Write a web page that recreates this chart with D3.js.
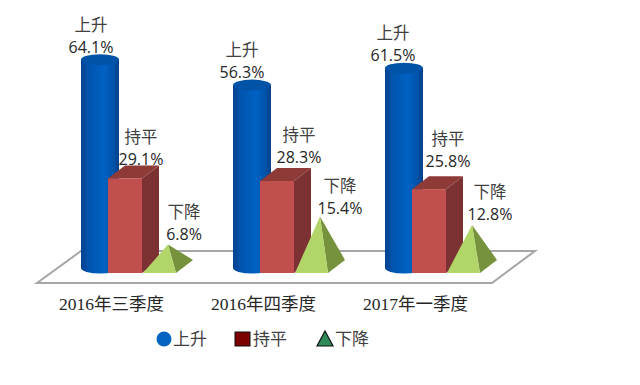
<!DOCTYPE html>
<html>
<head>
<meta charset="utf-8">
<script src="https://cdn.jsdelivr.net/npm/d3@7"></script>
<style>
    html, body { margin: 0; padding: 0; background: #fff; }
    svg { display: block; }
    text { font-family: "Noto Sans CJK SC", "Open Sans", sans-serif; }
</style>
</head>
<body>
<div id="chart"></div>
<script>
const categories = ["2016年三季度", "2016年四季度", "2017年一季度"];
const seriesNames = ["上升", "持平", "下降"];
const rising = [64.1, 56.3, 61.5];
const flat = [29.1, 28.3, 25.8];
const falling = [6.8, 15.4, 12.8];

const width = 640, height = 385;

const svg = d3.select("#chart")
    .append("svg")
    .attr("width", width)
    .attr("height", height);

const defs = svg.append("defs");
const cylGrad = defs.append("linearGradient").attr("id", "cyl");
[[0, "#00408f"], [0.2, "#0054ad"], [0.6, "#0062c4"], [0.85, "#0053a8"], [1, "#003e8a"]].forEach(s => {
    cylGrad.append("stop").attr("offset", s[0]).attr("stop-color", s[1]);
});
// the reference is a soft, upscaled picture
defs.append("filter").attr("id", "soft")
    .append("feGaussianBlur").attr("stdDeviation", 0.35);

const x = d3.scalePoint().domain(categories).range([81, 385]);
const y = d3.scaleLinear().domain([0, 100]).range([0, 325]);

const base = 273;          // front edge of the box and pyramid
const cylBase = 268;       // centre of the cylinder's bottom ellipse
const cylW = 38, ry = 5.5;
const boxX = 27, boxW = 34, depthX = 17, depthY = 13;
const pyrX = 62, pyrW = 33;

const chart = svg.append("g").attr("filter", "url(#soft)");

// floor
chart.append("path")
    .attr("d", `M37,${base + 10}L492,${base + 10}L535,${base - 22}L81,${base - 22}Z`)
    .attr("fill", "#fff")
    .attr("stroke", "#a6a6a6")
    .attr("stroke-width", 2);

categories.forEach((c, i) => {
    const x0 = x(c);

    // cylinder
    const cylTop = cylBase - y(rising[i]);
    chart.append("path")
        .attr("d", `M${x0},${cylTop}L${x0},${cylBase}A${cylW / 2},${ry} 0 0 0 ${x0 + cylW},${cylBase}L${x0 + cylW},${cylTop}Z`)
        .attr("fill", "url(#cyl)");
    chart.append("ellipse")
        .attr("cx", x0 + cylW / 2)
        .attr("cy", cylTop)
        .attr("rx", cylW / 2)
        .attr("ry", ry)
        .attr("fill", "#0052a6");

    // box
    const bx = x0 + boxX, bTop = base - y(flat[i]);
    chart.append("path")
        .attr("d", `M${bx + boxW},${bTop}L${bx + boxW + depthX},${bTop - depthY}L${bx + boxW + depthX},${base - depthY}L${bx + boxW},${base}Z`)
        .attr("fill", "#7c3231");
    chart.append("path")
        .attr("d", `M${bx},${bTop}L${bx + depthX},${bTop - depthY}L${bx + boxW + depthX},${bTop - depthY}L${bx + boxW},${bTop}Z`)
        .attr("fill", "#8e3b39");
    chart.append("rect")
        .attr("x", bx)
        .attr("y", bTop)
        .attr("width", boxW)
        .attr("height", y(flat[i]))
        .attr("fill", "#c0504d");

    // pyramid
    const px = x0 + pyrX;
    const apexX = px + (pyrW + depthX) / 2;
    const apexY = base - depthY / 2 - y(falling[i]);
    chart.append("path")
        .attr("d", `M${px + pyrW},${base}L${px + pyrW + depthX},${base - depthY}L${apexX},${apexY}Z`)
        .attr("fill", "#76923c");
    chart.append("path")
        .attr("d", `M${px},${base}L${px + pyrW},${base}L${apexX},${apexY}Z`)
        .attr("fill", "#b1d568");
});

// data labels, hand placed in the original so each one gets its own offset
const labelPos = [
    [[91, 47], [141, 159], [184, 234]],
    [[242, 72], [299, 157], [340, 208]],
    [[393, 55], [448, 161], [490, 214]]
];
const seriesValues = [rising, flat, falling];
const labels = svg.append("g").attr("text-anchor", "middle").attr("fill", "#262626");

categories.forEach((c, i) => {
    seriesNames.forEach((name, s) => {
        const p = labelPos[i][s];
        labels.append("text")
            .attr("x", p[0])
            .attr("y", p[1] - 22)
            .attr("dy", "0.35em")
            .style("font-size", "16.5px")
            .attr("fill", "#404040")
            .text(name);
        labels.append("text")
            .attr("x", p[0])
            .attr("y", p[1])
            .attr("dy", "0.35em")
            .style("font-size", "16px")
            .style("font-family", "'Open Sans', sans-serif")
            .text(seriesValues[s][i].toFixed(1) + "%");
    });
});

// category axis
const axis = svg.append("g")
    .attr("transform", `translate(30,${base + 22})`)
    .call(d3.axisBottom(x).tickSize(0).tickPadding(0));
axis.select(".domain").remove();
axis.selectAll("text")
    .attr("dy", "0.85em")
    .attr("fill", "#262626")
    .style("font-size", "17.5px")
    .style("font-family", "'Liberation Serif', 'Noto Sans CJK SC', serif");

// legend
const legend = svg.append("g");
const legendX = [173, 253, 335];
legend.append("circle").attr("cx", 164).attr("cy", 339).attr("r", 7.5).attr("fill", "#0563c1");
legend.append("rect").attr("x", 235).attr("y", 332).attr("width", 15).attr("height", 14)
    .attr("fill", "#7b0000").attr("stroke", "#111").attr("stroke-width", 1);
legend.append("path").attr("d", "M325,331L333,346L317,346Z")
    .attr("fill", "#2e8b57").attr("stroke", "#111").attr("stroke-width", 1.2);
seriesNames.forEach((name, s) => {
    legend.append("text")
        .attr("x", legendX[s])
        .attr("y", 339)
        .attr("dy", "0.35em")
        .attr("fill", "#404040")
        .style("font-size", "17px")
        .text(name);
});
</script>
</body>
</html>
